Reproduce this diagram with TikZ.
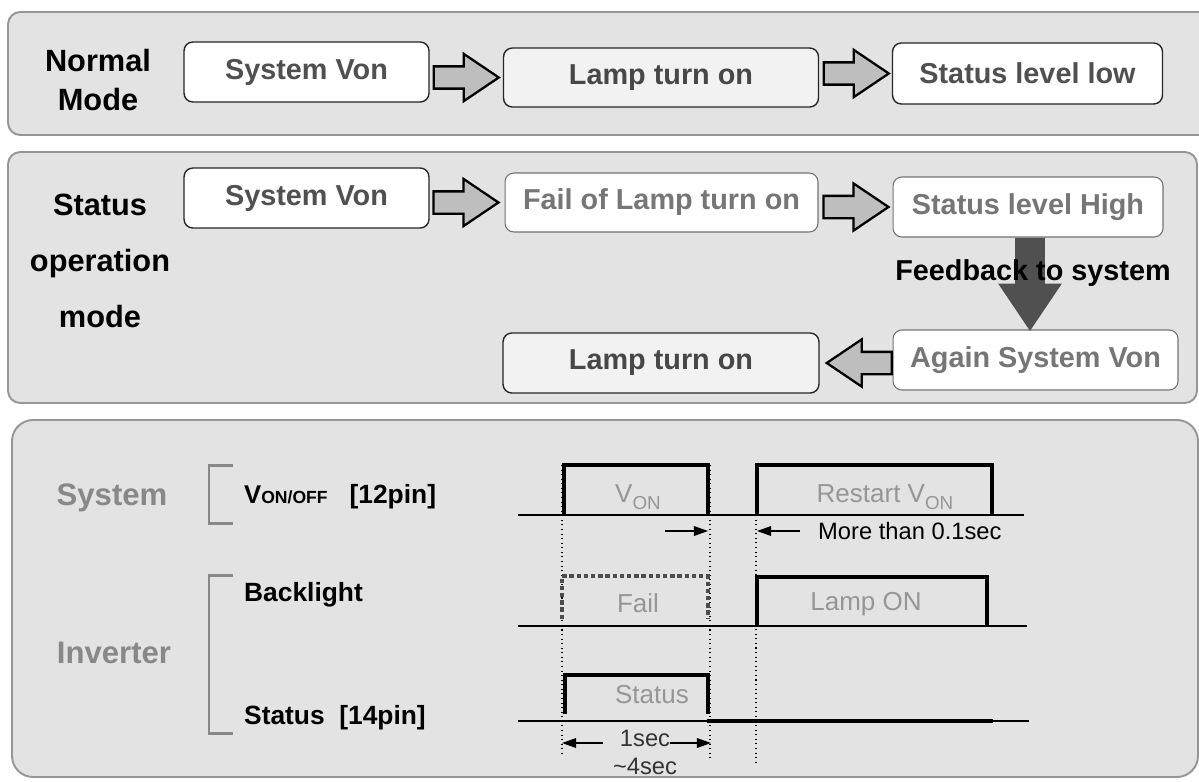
\documentclass[tikz,border=0pt]{standalone}
\usepackage{fontspec}
\setmainfont{Liberation Sans}
\usetikzlibrary{arrows.meta, positioning, shapes.arrows}
\definecolor{panelgray}{RGB}{227,227,227}
\definecolor{panelline}{RGB}{150,150,150}
\definecolor{arrowgray}{RGB}{190,190,190}
\definecolor{darkarrow}{RGB}{80,80,80}
\definecolor{boxtext}{RGB}{80,80,80}
\definecolor{failtext}{RGB}{118,118,118}
\definecolor{lighttext}{RGB}{136,136,136}
\definecolor{wavetext}{RGB}{150,150,150}
\definecolor{lampfill}{RGB}{242,242,242}
\newcommand{\Von}{V\raisebox{-4pt}{\fontsize{10.7}{11}\selectfont ON}}

\begin{document}
\begin{tikzpicture}[x=0.02cm,y=-0.02cm,
          panel/.style={draw=panelline,fill=panelgray,line width=1.1pt,rounded corners=7pt},
          box/.style={draw=black!85,fill=white,rounded corners=5pt,line width=0.8pt,
                      inner sep=0pt,text=boxtext,font=\bfseries\fontsize{16.4}{18}\selectfont},
          softbox/.style={box,draw=black!55,line width=0.6pt,text=failtext},
          lampbox/.style={box,fill=lampfill,text=black!72},
          modelabel/.style={align=center},
          barrow/.style={single arrow,draw=black,fill=arrowgray,line width=1.3pt,
                         single arrow head extend=0.25cm,single arrow tip angle=68,
                         inner xsep=0pt,inner ysep=0.2cm,minimum height=1.3cm},
          downarrow/.style={single arrow,draw=none,fill=darkarrow,shape border rotate=270,
                            single arrow head extend=0.34cm,single arrow tip angle=68,
                            inner ysep=0pt,inner xsep=0.29cm,minimum height=1.86cm},
          bracket/.style={draw=lighttext,line width=1.7pt},
          siglabel/.style={anchor=west,font=\bfseries\fontsize{15}{17}\selectfont},
          wavelabel/.style={text=wavetext,font=\fontsize{14.8}{16}\selectfont},
          wave/.style={line width=2.3pt},
          guide/.style={line width=0.6pt,dotted},
          measure/.style={line width=0.7pt,-{Triangle[length=8pt,width=5.5pt]}}]
        \useasboundingbox (0,0) rectangle (1199,781);
        % panels
        \draw[panel] (8,12) rectangle (1215,135);
        \draw[panel] (8,152) rectangle (1197,403);
        \draw[panel,rounded corners=12pt] (12,420) rectangle (1198,777);

        % normal mode
        \node[modelabel,font=\bfseries\fontsize{17.5}{22.7}\selectfont](nm) at (98,80){Normal\\Mode};
        \node[box,minimum width=4.9cm,minimum height=1.2cm](sv1) at (306.5,72){System Von};
        \node[lampbox,minimum width=6.3cm,minimum height=1.18cm](lt1) at (661,77.5){Lamp turn on};
        \node[box,minimum width=5.4cm,minimum height=1.22cm](sl) at (1027.5,73.5){Status level low};
        \node[barrow,anchor=tip](a1) at ([xshift=-0.04cm]lt1.west){};
        \node[barrow,anchor=tip](a2) at ([xshift=-0.02cm]sl.west){};

        % status operation mode
        \node[modelabel,font=\bfseries\fontsize{17.5}{31.7}\selectfont](sm) at (100,261){Status\\operation\\mode};
        \node[box,minimum width=4.9cm,minimum height=1.2cm](sv2) at (306.5,198){System Von};
        \node[softbox,minimum width=6.26cm,minimum height=1.18cm](fl) at (661.5,202.5){Fail of Lamp turn on};
        \node[softbox,minimum width=5.4cm,minimum height=1.2cm](sh) at (1028,207){Status level High};
        \node[softbox,minimum width=5.7cm,minimum height=1.2cm](ag) at (1035.5,360){Again System Von};
        \node[lampbox,minimum width=6.32cm,minimum height=1.2cm](lt2) at (661,363){Lamp turn on};
        \node[barrow,anchor=tip](a3) at ([xshift=-0.08cm]fl.west){};
        \node[barrow,anchor=tip](a4) at ([xshift=-0.04cm]sh.west){};
        \node[barrow,anchor=tip,shape border rotate=180](a5) at ([xshift=0.1cm]lt2.east){};
        \node[downarrow,anchor=tail](fbarrow) at ([xshift=0.04cm]sh.south){};
        \node[font=\bfseries\fontsize{16.4}{18}\selectfont](fb) at (1033,273){Feedback to system};

        % timing chart
        \node[text=lighttext,font=\bfseries\fontsize{17.7}{20}\selectfont](sys) at (112,498){System};
        \node[text=lighttext,font=\bfseries\fontsize{17.7}{20}\selectfont](inv) at (114,653){Inverter};
        \draw[bracket] (233,465) -- (209,465) -- (209,523) -- (233,523);
        \draw[bracket] (233,575) -- (209,575) -- (209,733) -- (233,733);
        \node[siglabel](von) at (238,497){{\fontsize{14.6}{15}\selectfont V}{\fontsize{10}{10}\selectfont ON/OFF}\ \ \ [12pin]};
        \node[siglabel](bl) at (238,595){Backlight};
        \node[siglabel](st) at (238,718){Status\ \ [14pin]};

        \draw[line width=0.6pt] (518,515) -- (1024,515);
        \draw[line width=0.6pt] (518,626) -- (1027,626);
        \draw[line width=0.6pt] (518,721) -- (1029,721);
        \draw[guide] (562,465) -- (562,757);
        \draw[guide] (710,465) -- (710,759);
        \draw[guide] (756,515) -- (756,766);
        \draw[wave] (564,515) |- (708,465) -- (708,515);
        \draw[wave] (757,515) |- (992,465) -- (992,515);
        \draw[line width=1.8pt,black!70,dash pattern=on 2.5pt off 1.6pt] (562,619) |- (708,576) -- (708,619);
        \draw[wave] (757,626) |- (987,577) -- (987,626);
        \draw[wave] (565,714) |- (708,675) -- (708,714);
        \draw[line width=2.7pt] (707,721) -- (993,721);

        \node[wavelabel](vonl) at (638,497){\Von};
        \node[wavelabel](rvon) at (885,497){Restart \Von};
        \node[wavelabel](fail) at (638,603){Fail};
        \node[wavelabel](lamp) at (866,604){Lamp ON};
        \node[wavelabel](stl) at (652,695){Status};
        \draw[measure] (665,531) -- (708,531);
        \draw[measure] (800,531) -- (757,531);
        \node[anchor=west,font=\fontsize{13.5}{15}\selectfont](more) at (812,531){More than 0.1sec};
        \draw[measure] (603,743) -- (562,743);
        \draw[measure] (670,743) -- (711,743);
        \node[font=\fontsize{13.5}{15}\selectfont,text=black!80](onesec) at (645,738){1sec};
        \node[font=\fontsize{13.5}{15}\selectfont,text=black!80](foursec) at (645,766){\textasciitilde 4sec};
      \end{tikzpicture}
\end{document}
